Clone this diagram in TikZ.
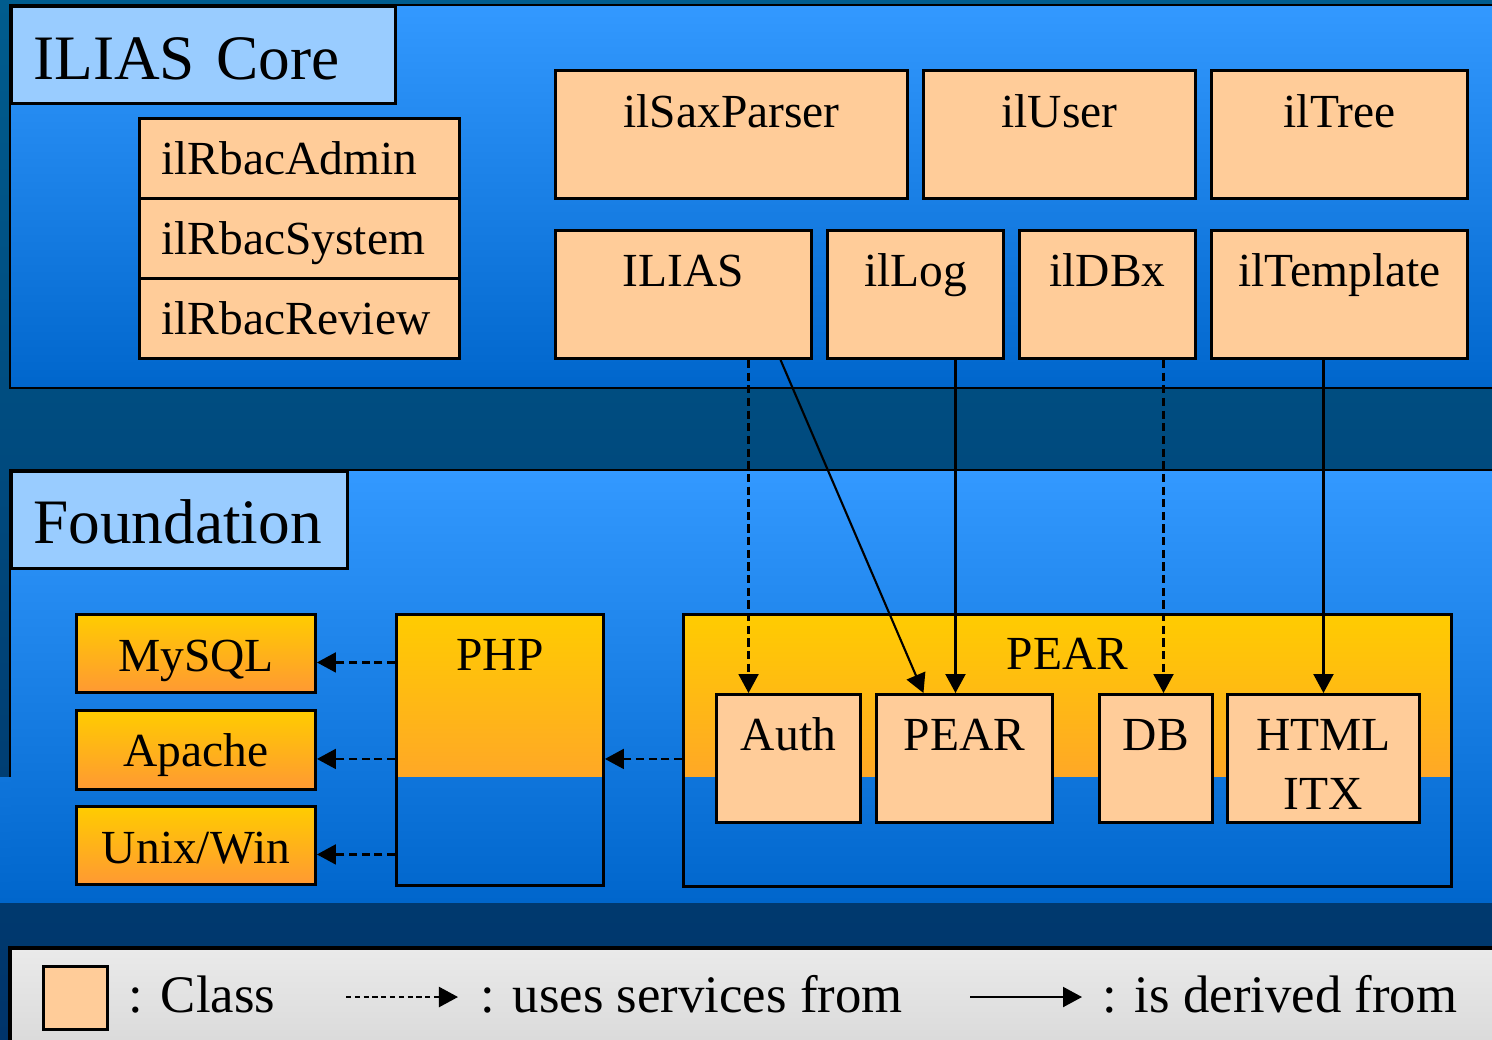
\documentclass[tikz,border=0pt]{standalone}
\usepackage{fontspec}
\setmainfont{Liberation Serif}
\usetikzlibrary{arrows.meta}

\definecolor{bgtop}{HTML}{005C8E}
\definecolor{bgbot}{HTML}{00346A}
\definecolor{pantop}{HTML}{3399FF}
\definecolor{panbot}{HTML}{0066CC}
\definecolor{titlefill}{HTML}{99CCFF}
\definecolor{clsfill}{HTML}{FFCC99}
\definecolor{pkgtop}{HTML}{FFCC00}
\definecolor{pkgbot}{HTML}{FF9933}
\definecolor{legtop}{HTML}{EAEAEA}
\definecolor{legbot}{HTML}{DADADA}

\tikzset{
  boxfont/.style={font=\fontsize{13.5}{16.8}\selectfont},
  title/.style={draw=black, fill=titlefill, line width=0.8pt, inner sep=0pt, inner xsep=0.22cm,
    anchor=north west, align=left, font=\fontsize{18}{21}\selectfont},
  cls/.style={draw=black, fill=clsfill, line width=0.8pt, inner sep=0pt, anchor=north west,
    align=center, boxfont, text height=0.57cm, text depth=0.71cm},
  rbac/.style={cls, align=left, inner xsep=0.22cm, text width=2.76cm, text height=0.56cm, text depth=0.24cm},
  tool/.style={draw=black, top color=pkgtop, bottom color=pkgbot, line width=0.8pt, inner sep=0pt,
    anchor=north west, boxfont, minimum width=2.39cm, text height=0.57cm, text depth=0.21cm},
  pkg/.style={draw=black, line width=0.8pt, inner sep=0pt, anchor=north west, boxfont},
  uses/.style={->, line width=0.6pt, dash pattern=on 2.3pt off 1.3pt},
  derived/.style={->, line width=0.6pt},
  legtext/.style={anchor=base west, inner sep=0pt, font=\fontsize{15}{18}\selectfont}
}

\begin{document}
\begin{tikzpicture}[x=0.01cm, y=-0.01cm, >={Triangle[length=0.19cm, width=0.2cm]}]
\useasboundingbox (0,0) rectangle (1492,1039);
\clip (0,0) rectangle (1492,1039);
\shade[top color=bgtop, bottom color=bgbot] (0,0) rectangle (1492,1039);

% ILIAS Core panel
\shade[top color=pantop, bottom color=panbot] (10,5) rectangle (1500,388);
\draw[line width=0.8pt] (1500,5) -- (10,5) -- (10,388) -- (1500,388);
\node[title, minimum width=3.84cm, text width=3.40cm, text height=0.73cm, text depth=0.24cm]
  (core) at (10,5) {ILIAS Core};

\node[rbac] (admin) at (138,117) {ilRbacAdmin};
\node[rbac] (system) at (138,197) {ilRbacSystem};
\node[rbac] (review) at (138,277) {ilRbacReview};

\node[cls, minimum width=3.52cm] (sax) at (554,69) {ilSaxParser};
\node[cls, minimum width=2.72cm] (user) at (922,69) {ilUser};
\node[cls, minimum width=2.56cm] (tree) at (1210,69) {ilTree};

\node[cls, minimum width=2.56cm, text height=0.56cm, text depth=0.72cm] (ilias) at (554,229) {ILIAS};
\node[cls, minimum width=1.76cm, text height=0.56cm, text depth=0.72cm] (log) at (826,229) {ilLog};
\node[cls, minimum width=1.76cm, text height=0.56cm, text depth=0.72cm] (dbx) at (1018,229) {ilDBx};
\node[cls, minimum width=2.56cm, text height=0.56cm, text depth=0.72cm] (tpl) at (1210,229) {ilTemplate};

% Foundation panel
\shade[top color=pantop, bottom color=panbot] (10,470) rectangle (1500,902);
\shade[top color={rgb,255:red,15;green,117;blue,219}, bottom color=panbot] (0,777) rectangle (11,902);
\draw[line width=0.8pt] (10,777) -- (10,470) -- (1500,470);
\node[title, minimum width=3.36cm, text width=2.92cm, text height=0.72cm, text depth=0.25cm]
  (fnd) at (10,470) {Foundation};

\node[tool] (mysql) at (75,613) {MySQL};
\node[tool, text height=0.56cm, text depth=0.23cm] (apache) at (75,709) {Apache};
\node[tool] (unixwin) at (75,805) {Unix/Win};

\shade[top color=pkgtop, bottom color={rgb,255:red,255;green,168;blue,38}] (395,613) rectangle (602,776);
\node[pkg, minimum width=2.07cm, text height=0.56cm, text depth=2.15cm] (php) at (395,613) {PHP};

\shade[top color=pkgtop, bottom color={rgb,255:red,255;green,168;blue,38}] (682,613) rectangle (1450,776);
\node[pkg, minimum width=7.68cm, text height=0.55cm, text depth=2.17cm] (pear) at (682,613) {PEAR};

\node[cls, minimum width=1.44cm, text height=0.56cm, text depth=0.72cm] (auth) at (715,693) {Auth};
\node[cls, minimum width=1.76cm, text height=0.56cm, text depth=0.72cm] (pearcls) at (875,693) {PEAR};
\node[cls, minimum width=1.13cm, text height=0.56cm, text depth=0.72cm] (db) at (1098,693) {DB};
\node[cls, minimum width=1.92cm, text height=1.15cm, text depth=0.13cm] (itx) at (1226,693) {HTML\\ITX};

% Connectors
\draw[uses] ([xshift=0.65cm]ilias.south) -- ([xshift=0.65cm]ilias.south |- auth.north);
\draw[derived] ([xshift=0.97cm]ilias.south) -- ([xshift=-0.41cm]pearcls.north);
\draw[derived] ([xshift=0.40cm]log.south) -- ([xshift=0.40cm]log.south |- pearcls.north);
\draw[uses] ([xshift=0.56cm]dbx.south) -- ([xshift=0.56cm]dbx.south |- db.north);
\draw[derived] (tpl.south -| itx.north) -- (itx.north);

\draw[uses] ([yshift=-0.09cm]mysql.east -| php.west) -- ([yshift=-0.09cm]mysql.east);
\draw[uses] ([yshift=-0.09cm]apache.east -| php.west) -- ([yshift=-0.09cm]apache.east);
\draw[uses] ([yshift=-0.09cm]unixwin.east -| php.west) -- ([yshift=-0.09cm]unixwin.east);
\draw[uses] ([yshift=-0.09cm]apache.east -| pear.west) -- ([yshift=-0.09cm]apache.east -| php.east);

% Legend
\shade[top color=legtop, bottom color=legbot] (10,948) rectangle (1500,1045);
\draw[line width=1pt] (10,1045) -- (10,948) -- (1500,948);
\node[draw=black, fill=clsfill, line width=0.8pt, inner sep=0pt, anchor=north west,
  minimum width=0.64cm, minimum height=0.63cm] (swatch) at (42,965) {};
\node[legtext] (lcls) at (128,1012) {: Class};
\coordinate (u1) at (346,997);
\coordinate (u2) at (458,997);
\draw[uses, dash pattern=on 1.5pt off 1pt] (u1) -- (u2);
\node[legtext] (luses) at (480,1012) {: uses services from};
\coordinate (d1) at (970,997);
\coordinate (d2) at (1082,997);
\draw[derived] (d1) -- (d2);
\node[legtext] (lder) at (1102,1012) {: is derived from};
\end{tikzpicture}
\end{document}
